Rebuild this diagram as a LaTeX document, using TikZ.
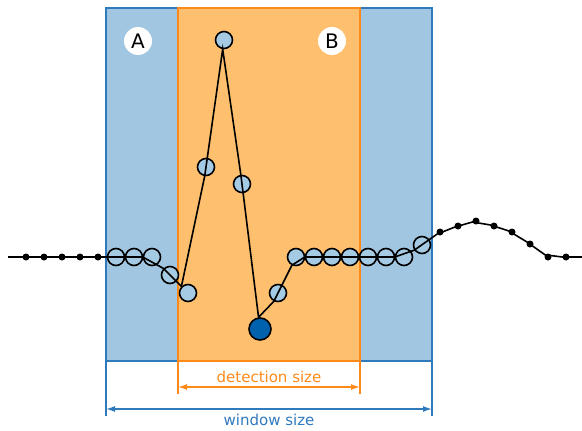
\documentclass[tikz,border=0pt]{standalone}
\usepackage{fontspec}
\setmainfont{DejaVu Sans}
\usetikzlibrary{arrows.meta}
\definecolor{winblue}{HTML}{A0C6E1}
\definecolor{winedge}{HTML}{2F79BD}
\definecolor{detorange}{HTML}{FEC06E}
\definecolor{detedge}{HTML}{FF8A1A}
\definecolor{ptblue}{HTML}{A5CAE4}
\definecolor{ptdark}{HTML}{0062AC}
\tikzset{
  smalldot/.style={circle, fill=black, inner sep=0pt, minimum size=7pt},
  openpt/.style={circle, draw=black, line width=1.6pt, fill=ptblue, inner sep=0pt, minimum size=17pt},
  darkpt/.style={circle, draw=black, line width=1.6pt, fill=ptdark, inner sep=0pt, minimum size=22pt},
  zonelabel/.style={circle, fill=white, inner sep=0pt, minimum size=28pt, font=\fontsize{20}{20}\selectfont},
  sizelabel/.style={font=\fontsize{15}{16}\selectfont},
  dimarrow/.style={{Latex[length=9pt,width=6pt]}-{Latex[length=9pt,width=6pt]}, line width=1.4pt}
}
\begin{document}
\begin{tikzpicture}[x=1pt, y=-1pt]
  \useasboundingbox (0,0) rectangle (582,431);
  % okna
  \draw [fill=winblue, draw=winedge, line width=1.7pt] (106,8) rectangle (432,361);
  \draw [fill=detorange, draw=detedge, line width=1.7pt] (178,8) rectangle (360,361);
  \node [zonelabel] (A) at (138,41) {A};
  \node [zonelabel] (B) at (332,41) {B};
  % točke signala
  \coordinate (lstart) at (8,257);
  \coordinate (lend) at (582,257);
  \foreach \x [count=\i] in {26,44,62,80,98}
    \node [smalldot] (d\i) at (\x,257) {};
  \foreach \x/\y [count=\i] in {116/257,134/257,152/257,170/275,188/293,206/167,224/40,242/184}
    \node [openpt] (o\i) at (\x,\y) {};
  \node [darkpt] (pk) at (260,329) {};
  \foreach \x/\y [count=\i] in {278/293,296/257,314/257,332/257,350/257,368/257,386/257,404/257,422/245}
    \node [openpt] (q\i) at (\x,\y) {};
  \foreach \x/\y [count=\i] in {440/232,458/226,476/221,494/226,512/232,530/244,548/257,566/257}
    \node [smalldot] (e\i) at (\x,\y) {};
  % signal
  \draw [line width=1.6pt] (lstart) foreach \n in {d1,d2,d3,d4,d5,o1,o2,o3,o4,o5,o6,o7,o8,pk,q1,q2,q3,q4,q5,q6,q7,q8,q9,e1,e2,e3,e4,e5,e6,e7,e8} { -- (\n) } -- (lend);
  % mere
  \coordinate (wl) at (106,409);
  \coordinate (wr) at (432,409);
  \coordinate (dl) at (178,387);
  \coordinate (dr) at (360,387);
  \draw [winedge, line width=1.4pt] (106,361) -- (106,416) (432,361) -- (432,416);
  \draw [detedge, line width=1.4pt] (178,361) -- (178,394) (360,361) -- (360,394);
  \draw [dimarrow, winedge] (wl) -- (wr);
  \draw [dimarrow, detedge] (dl) -- (dr);
  \node [sizelabel, text=detedge] (dsize) at (269,377) {detection size};
  \node [sizelabel, text=winedge] (wsize) at (269,420) {window size};
\end{tikzpicture}
\end{document}
